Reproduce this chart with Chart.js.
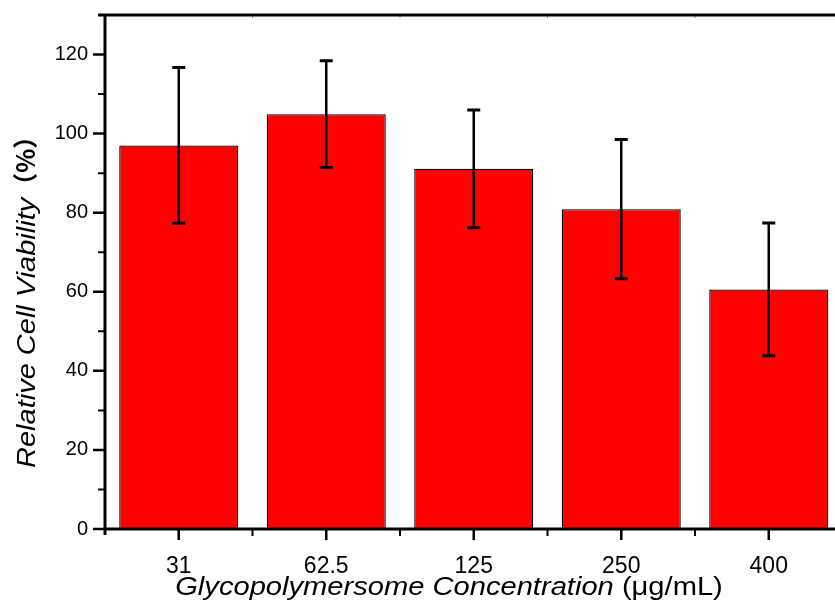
<!DOCTYPE html>
<html><head><meta charset="utf-8">
<script src="https://cdn.jsdelivr.net/npm/chart.js@4/dist/chart.umd.min.js"></script>
<style>
html,body{margin:0;padding:0;overflow:hidden;background:#fff;width:835px;height:606px}
#wrap{position:absolute;left:0;top:0;width:835px;height:606px;overflow:hidden}
#c{position:absolute;left:0;top:0}
</style>
</head><body><div id="wrap"><canvas id="c" width="900" height="606" style="width:900px;height:606px"></canvas></div>
<script>
const categories = ['31', '62.5', '125', '250', '400'];
const viability = [97.0, 104.9, 91.1, 80.9, 60.6];
const viabilitySD = [19.7, 13.5, 14.9, 17.6, 16.8];
const yTicks = [0, 20, 40, 60, 80, 100, 120];
const yMinorTicks = [10, 30, 50, 70, 90, 110, 130];
const xTitleItalic = 'Glycopolymersome Concentration';
const xTitleUnit = ' (\u03bcg/mL)';
const yTitleItalic = 'Relative Cell Viability';
const yTitleUnit = '\uff08%\uff09';

const FONT = "'Liberation Sans', Arial, sans-serif";

function zeroPad(s) { s.paddingTop = 0; s.paddingBottom = 0; s.paddingLeft = 0; s.paddingRight = 0; }

const drawPlugin = {
  id: 'drawPlugin',
  afterDatasetsDraw(chart) {
    const ctx = chart.ctx, xs = chart.scales.x, ys = chart.scales.y;
    ctx.save();
    ctx.strokeStyle = '#000';
    viability.forEach((v, i) => {
      const x = xs.getPixelForValue(i);
      const yt = ys.getPixelForValue(v + viabilitySD[i]);
      const yb = ys.getPixelForValue(v - viabilitySD[i]);
      ctx.lineWidth = 2.5;
      ctx.beginPath(); ctx.moveTo(x, yt); ctx.lineTo(x, yb); ctx.stroke();
      ctx.lineWidth = 3;
      ctx.beginPath();
      ctx.moveTo(x - 6.5, yt); ctx.lineTo(x + 6.5, yt);
      ctx.moveTo(x - 6.5, yb); ctx.lineTo(x + 6.5, yb);
      ctx.stroke();
    });
    ctx.restore();
  },
  afterDraw(chart) {
    const ctx = chart.ctx, xs = chart.scales.x, ys = chart.scales.y;
    const a = chart.chartArea;
    ctx.save();
    ctx.strokeStyle = '#000';
    ctx.lineCap = 'butt';
    ctx.lineWidth = 3;
    ctx.beginPath();
    ctx.moveTo(a.left, a.top - 1.5); ctx.lineTo(a.left, a.bottom + 6);
    ctx.moveTo(a.left - 1.5, a.bottom); ctx.lineTo(a.right, a.bottom);
    ctx.moveTo(a.left - 7, a.top); ctx.lineTo(a.right, a.top);
    ctx.stroke();
    ctx.lineWidth = 2.5;
    ctx.beginPath();
    yTicks.forEach(v => { const y = ys.getPixelForValue(v); ctx.moveTo(a.left - 12, y); ctx.lineTo(a.left, y); });
    ctx.stroke();
    ctx.lineWidth = 2;
    ctx.beginPath();
    yMinorTicks.forEach(v => { const y = ys.getPixelForValue(v); ctx.moveTo(a.left - 7, y); ctx.lineTo(a.left, y); });
    ctx.stroke();
    ctx.lineWidth = 2.5;
    ctx.beginPath();
    categories.forEach((c, i) => { const x = xs.getPixelForValue(i); ctx.moveTo(x, a.bottom); ctx.lineTo(x, a.bottom + 11); });
    ctx.stroke();
    ctx.lineWidth = 2;
    ctx.beginPath();
    for (let i = 1; i < categories.length; i++) {
      const x = (xs.getPixelForValue(i - 1) + xs.getPixelForValue(i)) / 2;
      ctx.moveTo(x, a.bottom); ctx.lineTo(x, a.bottom + 7);
    }
    ctx.stroke();
    ctx.strokeStyle = 'rgba(0,0,0,0.45)';
    ctx.lineWidth = 1;
    ctx.beginPath();
    for (let i = 1; i < categories.length; i++) {
      const x = xs.getPixelForValue(i - 0.5);
      ctx.moveTo(x, a.top); ctx.lineTo(x, a.top + 3);
    }
    ctx.stroke();

    ctx.fillStyle = '#000';
    ctx.textBaseline = 'alphabetic';
    ctx.textAlign = 'left';
    const sx = 1.12;
    ctx.font = "italic 26px " + FONT;
    const w1 = ctx.measureText(xTitleItalic).width;
    ctx.font = "26px " + FONT;
    const w2 = ctx.measureText(xTitleUnit).width;
    const total = (w1 + w2) * sx;
    const cx = 449;
    ctx.save();
    ctx.translate(cx - total / 2, 595);
    ctx.scale(sx, 1);
    ctx.font = "italic 26px " + FONT;
    ctx.fillText(xTitleItalic, 0, 0);
    ctx.font = "26px " + FONT;
    ctx.fillText(xTitleUnit, w1, 0);
    ctx.restore();

    ctx.save();
    ctx.translate(35, 468);
    ctx.rotate(-Math.PI / 2);
    const sy = 1.16;
    ctx.font = "italic 25px " + FONT;
    const v1 = ctx.measureText(yTitleItalic).width;
    ctx.save();
    ctx.scale(sy, 1);
    ctx.fillText(yTitleItalic, 0, 0);
    ctx.restore();
    ctx.font = "bold 25px 'Noto Sans CJK SC', " + FONT;
    ctx.fillText(yTitleUnit, v1 * sy, 0);
    ctx.restore();
    ctx.restore();
  }
};

new Chart(document.getElementById('c'), {
  type: 'bar',
  data: {
    labels: categories,
    datasets: [{
      data: viability,
      backgroundColor: '#FF0000',
      borderColor: '#000',
      borderWidth: 1.3,
      categoryPercentage: 1,
      barPercentage: 0.807
    }]
  },
  options: {
    responsive: false,
    animation: false,
    devicePixelRatio: 1,
    layout: { padding: { top: 15, right: 57.5, left: 0, bottom: 0 } },
    plugins: { legend: { display: false }, tooltip: { enabled: false }, title: { display: false } },
    scales: {
      x: {
        grid: { display: false, drawTicks: false },
        border: { display: false },
        ticks: { font: { family: FONT, size: 23 }, color: '#000', padding: 24, maxRotation: 0, autoSkip: false },
        afterFit(s) { s.height = 77; zeroPad(s); }
      },
      y: {
        min: 0, max: 130,
        grid: { display: false, drawTicks: false },
        border: { display: false },
        ticks: { font: { family: FONT, size: 20 }, color: '#000', padding: 17 },
        afterBuildTicks(s) { s.ticks = yTicks.map(v => ({ value: v })); },
        afterFit(s) { s.width = 105; zeroPad(s); }
      }
    }
  },
  plugins: [drawPlugin]
});
</script>
</body></html>
